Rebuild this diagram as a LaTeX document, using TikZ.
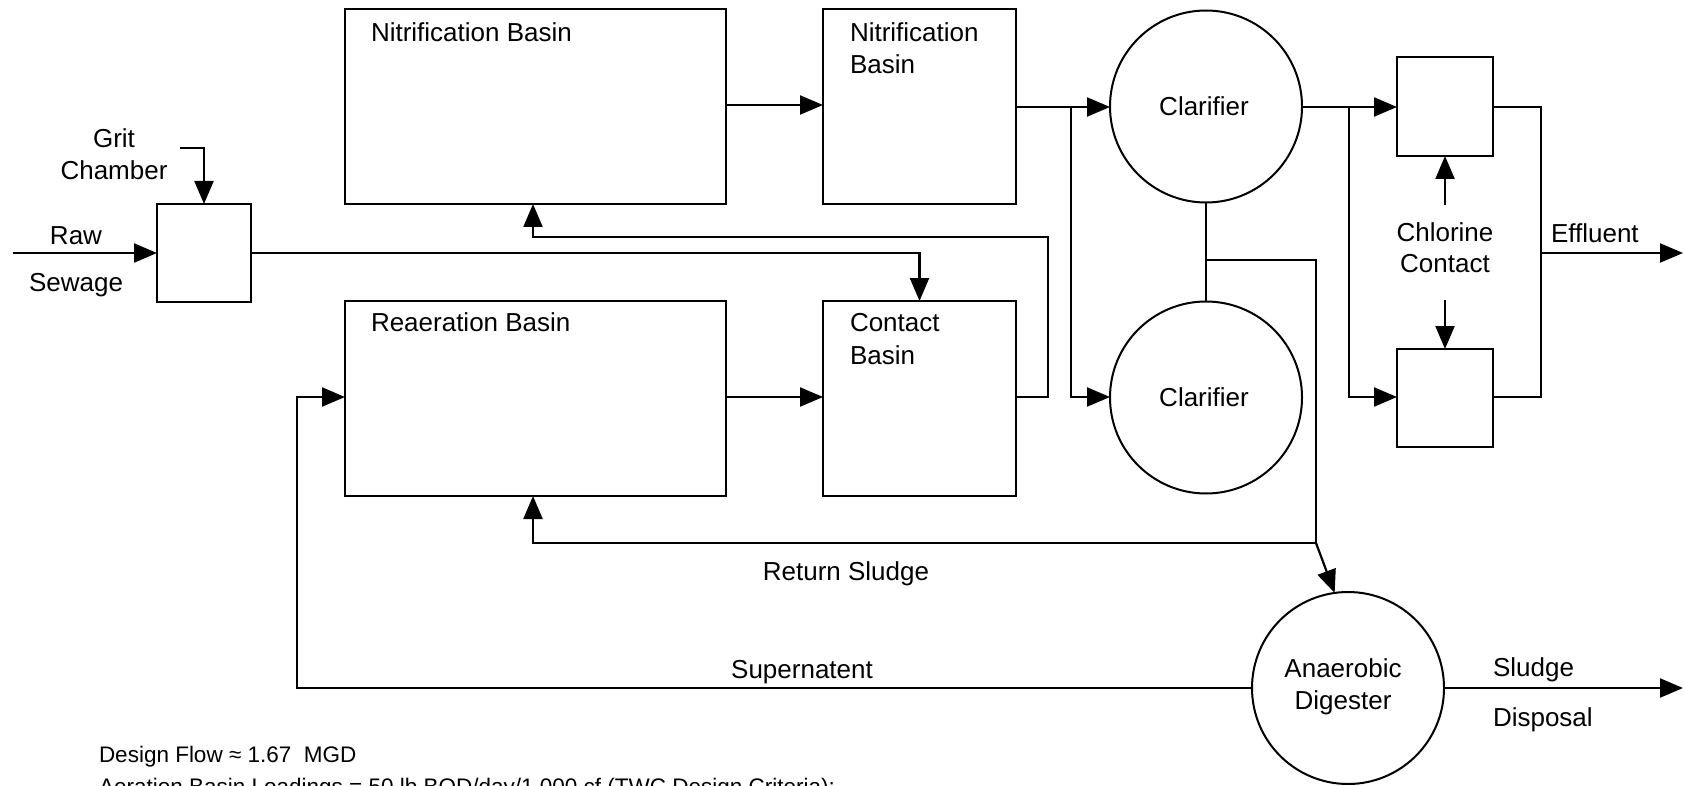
\documentclass[tikz,border=0pt]{standalone}
\usepackage{fontspec}
\setmainfont{Liberation Sans}
\usetikzlibrary{arrows.meta}
\begin{document}
\begin{tikzpicture}[x=1pt,y=-1pt,
  ln/.style={line width=2.2pt},
  arr/.style={line width=2.2pt,-{Triangle[length=23pt,width=19pt]}},
  box/.style={draw,line width=2.2pt,inner sep=0pt,outer sep=0pt},
  circ/.style={draw,circle,line width=2pt,inner sep=0pt,outer sep=0pt,minimum size=192pt},
  txt/.style={inner sep=0pt,outer sep=0pt,font=\fontsize{26}{32}\selectfont,text height=18.6pt,text depth=0pt},
  small/.style={inner sep=0pt,outer sep=0pt,font=\fontsize{22.5}{31}\selectfont,text height=16pt,text depth=0pt}
]
\useasboundingbox (0,0) rectangle (1685,786);
\clip (0,0) rectangle (1685,786);
% boxes
\node[box,minimum width=94pt,minimum height=98pt] (grit) at (204,253) {};
\node[box,minimum width=381pt,minimum height=195pt] (nit1) at (535.5,106.5) {};
\node[box,minimum width=193pt,minimum height=195pt] (nit2) at (919.5,106.5) {};
\node[box,minimum width=381pt,minimum height=195pt] (rea) at (535.5,398.5) {};
\node[box,minimum width=193pt,minimum height=195pt] (con) at (919.5,398.5) {};
\node[box,minimum width=96pt,minimum height=99pt] (cl1) at (1445,106.5) {};
\node[box,minimum width=96pt,minimum height=98pt] (cl2) at (1445,398) {};
\node[circ] (clar1) at (1206,106.5) {};
\node[circ] (clar2) at (1206,397.5) {};
\node[circ] (dig) at (1348,688) {};
% text
\node[txt] (tgrit) at (114,138) {Grit};
\node[txt] (tcham) at (114,170) {Chamber};
\node[txt] (traw) at (76,235) {Raw};
\node[txt] (tsew) at (76,282) {Sewage};
\node[txt,anchor=west] (tnit1) at (371,32) {Nitrification Basin};
\node[txt,anchor=west] (tnit2a) at (850,32) {Nitrification};
\node[txt,anchor=west] (tnit2b) at (850,64) {Basin};
\node[txt,anchor=west] (trea) at (371,322) {Reaeration Basin};
\node[txt,anchor=west] (tcona) at (850,322) {Contact};
\node[txt,anchor=west] (tconb) at (850,355) {Basin};
\node[txt] (tclar1) at (1204,106) {Clarifier};
\node[txt] (tclar2) at (1204,397) {Clarifier};
\node[txt] (tchla) at (1445,232) {Chlorine};
\node[txt] (tchlb) at (1445,263) {Contact};
\node[txt,anchor=west] (teff) at (1551,233) {Effluent};
\node[txt] (tret) at (846,571) {Return Sludge};
\node[txt] (tsup) at (802,669) {Supernatent};
\node[txt] (tdiga) at (1343,668) {Anaerobic};
\node[txt] (tdigb) at (1343,700) {Digester};
\node[txt,anchor=west] (tslu) at (1493,667) {Sludge};
\node[txt,anchor=west] (tdis) at (1493,717) {Disposal};
\node[small,anchor=west] (tnote1) at (99,754) {Design Flow ≈ 1.67\ \ MGD};
\node[small,anchor=west] (tnote2) at (99,786) {Aeration Basin Loadings = 50 lb BOD/day/1,000 cf (TWC Design Criteria):};
% coordinates
\coordinate (rawin) at (13,253);
\coordinate (gritin) at (180,148);
\coordinate (effout) at (1683,253);
\coordinate (sluout) at (1683,688);
% connectors
\draw[arr] (rawin) -- (grit.west);
\draw[arr] (gritin) -| (grit.north);
\draw[arr] (grit.east) -| (con.north);
\draw[arr] (nit1.east |- 0,105) -- (nit2.west |- 0,105);
\draw[arr] (rea.east |- 0,397) -- (con.west |- 0,397);
\draw[arr] (con.east |- 0,397) -- (1048,397) -- (1048,237) -| (nit1.south -| 533,0);
\draw[arr] (nit2.east |- 0,107) -- (clar1.west |- 0,107);
\draw[arr] (1071,107) -- (1071,397) -- (clar2.west |- 0,397);
\draw[ln] (clar1.south) -- (clar2.north);
\draw[ln] (1206,260) -- (1316,260) -- (1316,543);
\draw[arr] (1316,543) -- (dig.98);
\draw[arr] (1316,543) -| (rea.south -| 533,0);
\draw[arr] (dig.west) -- (297,688) |- (rea.west |- 0,397);
\draw[arr] (dig.east) -- (sluout);
\draw[arr] (clar1.east |- 0,107) -- (cl1.west |- 0,107);
\draw[arr] (1349,107) -- (1349,397) -- (cl2.west |- 0,397);
\draw[arr] (1445,205) -- (cl1.south);
\draw[arr] (1445,300) -- (cl2.north);
\draw[ln] (cl1.east |- 0,107) -- (1541,107) -- (1541,397) -- (cl2.east |- 0,397);
\draw[arr] (1541,253) -- (effout);
\end{tikzpicture}
\end{document}
